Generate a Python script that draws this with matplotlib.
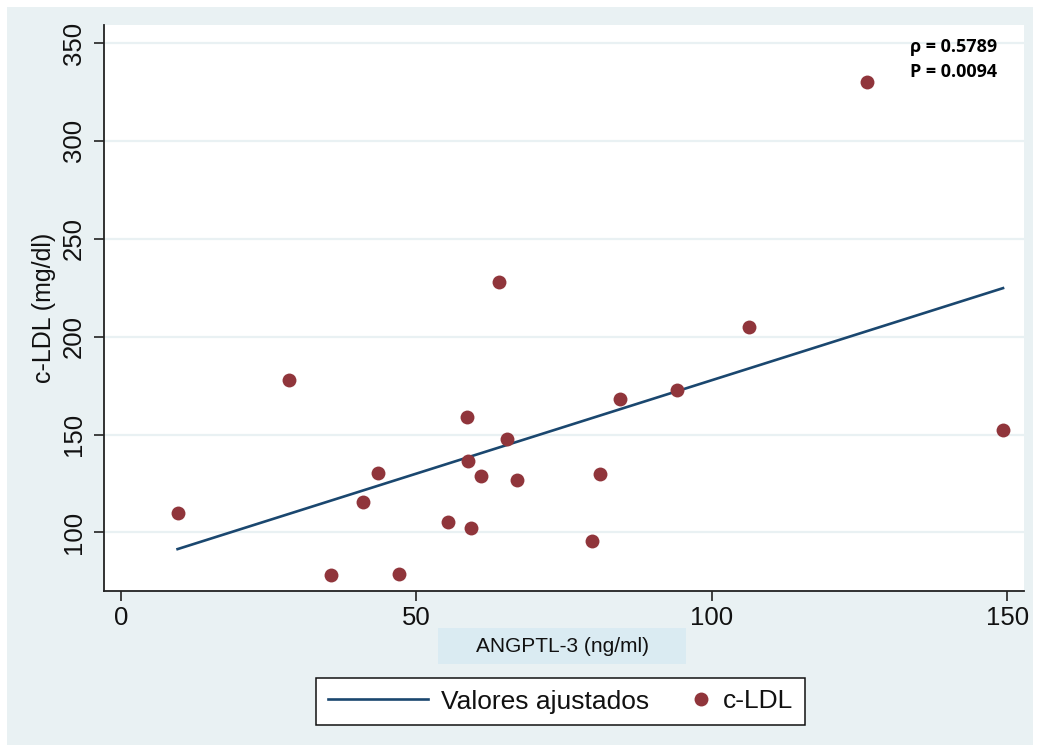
import numpy as np
import matplotlib
matplotlib.use("Agg")
import matplotlib.pyplot as plt
from matplotlib.patches import Rectangle
from matplotlib.lines import Line2D
from matplotlib.legend_handler import HandlerLine2D

# data
angptl3 = [9.6, 28.5, 35.6, 40.9, 43.6, 47.0, 55.4, 58.5, 58.8, 59.2, 60.9,
           64.0, 65.4, 67.1, 79.7, 81.1, 84.4, 94.2, 106.3, 126.2, 149.3]
cldl = [109.9, 177.8, 78.2, 115.6, 130.6, 79.0, 105.3, 159.0, 136.4, 102.3, 128.6,
        228.0, 147.5, 127.0, 95.7, 130.0, 168.4, 172.8, 204.9, 330.0, 152.2]
fit_x = [9.6, 149.3]
fit_y = [91.5, 224.8]
xticks = [0, 50, 100, 150]
yticks = [100, 150, 200, 250, 300, 350]

plt.rcParams['font.family'] = ['Liberation Sans', 'DejaVu Sans']

bg = '#E9F1F3'
navy = '#1A476F'
maroon = '#90353B'

W, H = 1042, 747
fig = plt.figure(figsize=(W / 100, H / 100), dpi=100)
fig.patch.set_facecolor('white')
fig.patches.append(Rectangle((7 / W, 1 - 745 / H), (1033 - 7) / W, (745 - 7) / H,
                             transform=fig.transFigure, facecolor=bg, edgecolor='none', zorder=-10))

ax = fig.add_axes([104.3 / W, 1 - 591 / H, (1024.3 - 104.3) / W, (591 - 25) / H])
ax.set_facecolor('white')

ax.plot(fit_x, fit_y, color=navy, lw=1.9, zorder=3)
ax.plot(angptl3, cldl, 'o', color=maroon, ms=10, mew=0, zorder=4)

ax.set_xlim(-2.8, 152.9)
ax.set_ylim(70.1, 359.2)
ax.set_xticks(xticks)
ax.set_yticks(yticks)
ax.yaxis.grid(True, color=bg, lw=1.6)
ax.set_axisbelow(True)
for s in ['top', 'right']:
    ax.spines[s].set_visible(False)
for s in ['left', 'bottom']:
    ax.spines[s].set_linewidth(1.3)
    ax.spines[s].set_color('#222222')
ax.tick_params(axis='both', length=7, width=1.2, color='#222222', labelsize=18.5, labelcolor='#111111')
ax.tick_params(axis='x', pad=4)
ax.tick_params(axis='y', pad=6)
plt.setp(ax.get_yticklabels(), rotation=90, va='center')

fig.text(44 / W, 1 - 308 / H, 'c-LDL (mg/dl)', rotation=90, ha='center', va='center',
         fontsize=18, color='#111111')

fig.patches.append(Rectangle((438 / W, 1 - 664.3 / H), 247.7 / W, 36.6 / H,
                             transform=fig.transFigure, facecolor='#DAEBF2', edgecolor='none', zorder=1))
fig.text(562 / W, 1 - 646 / H, 'ANGPTL-3 (ng/ml)', ha='center', va='center',
         fontsize=15, color='#111111', zorder=2)

fig.text(910 / W, 1 - 46.7 / H, 'ρ = 0.5789', ha='left', va='center', fontsize=13,
         fontweight='bold', family=['Open Sans', 'DejaVu Sans'], zorder=5)
fig.text(910 / W, 1 - 71.7 / H, 'P = 0.0094', ha='left', va='center', fontsize=13,
         fontweight='bold', family=['Open Sans', 'DejaVu Sans'], zorder=5)


class MarkerRight(HandlerLine2D):
    def get_xdata(self, legend, xdescent, ydescent, width, height, fontsize):
        x = width - xdescent - 0.35 * fontsize
        return np.array([x - 1, x + 1]), np.array([x])


h_line = Line2D([], [], color=navy, lw=1.9)
h_pt = Line2D([], [], color=maroon, marker='o', ms=10, mew=0, ls='None')
leg = fig.legend([h_line, h_pt], ['Valores ajustados', 'c-LDL'], ncol=2,
                 loc='center', bbox_to_anchor=(560.5 / W, 1 - 701.5 / H),
                 fontsize=19, handlelength=3.8, handletextpad=0.5,
                 columnspacing=-1.5, borderpad=0.45, fancybox=False,
                 framealpha=1, edgecolor='#111111',
                 handler_map={h_pt: MarkerRight(numpoints=1)})
leg.get_frame().set_linewidth(1.1)
for t in leg.get_texts():
    t.set_color('#111111')

fig.savefig('out.png', dpi=100, facecolor='white')
